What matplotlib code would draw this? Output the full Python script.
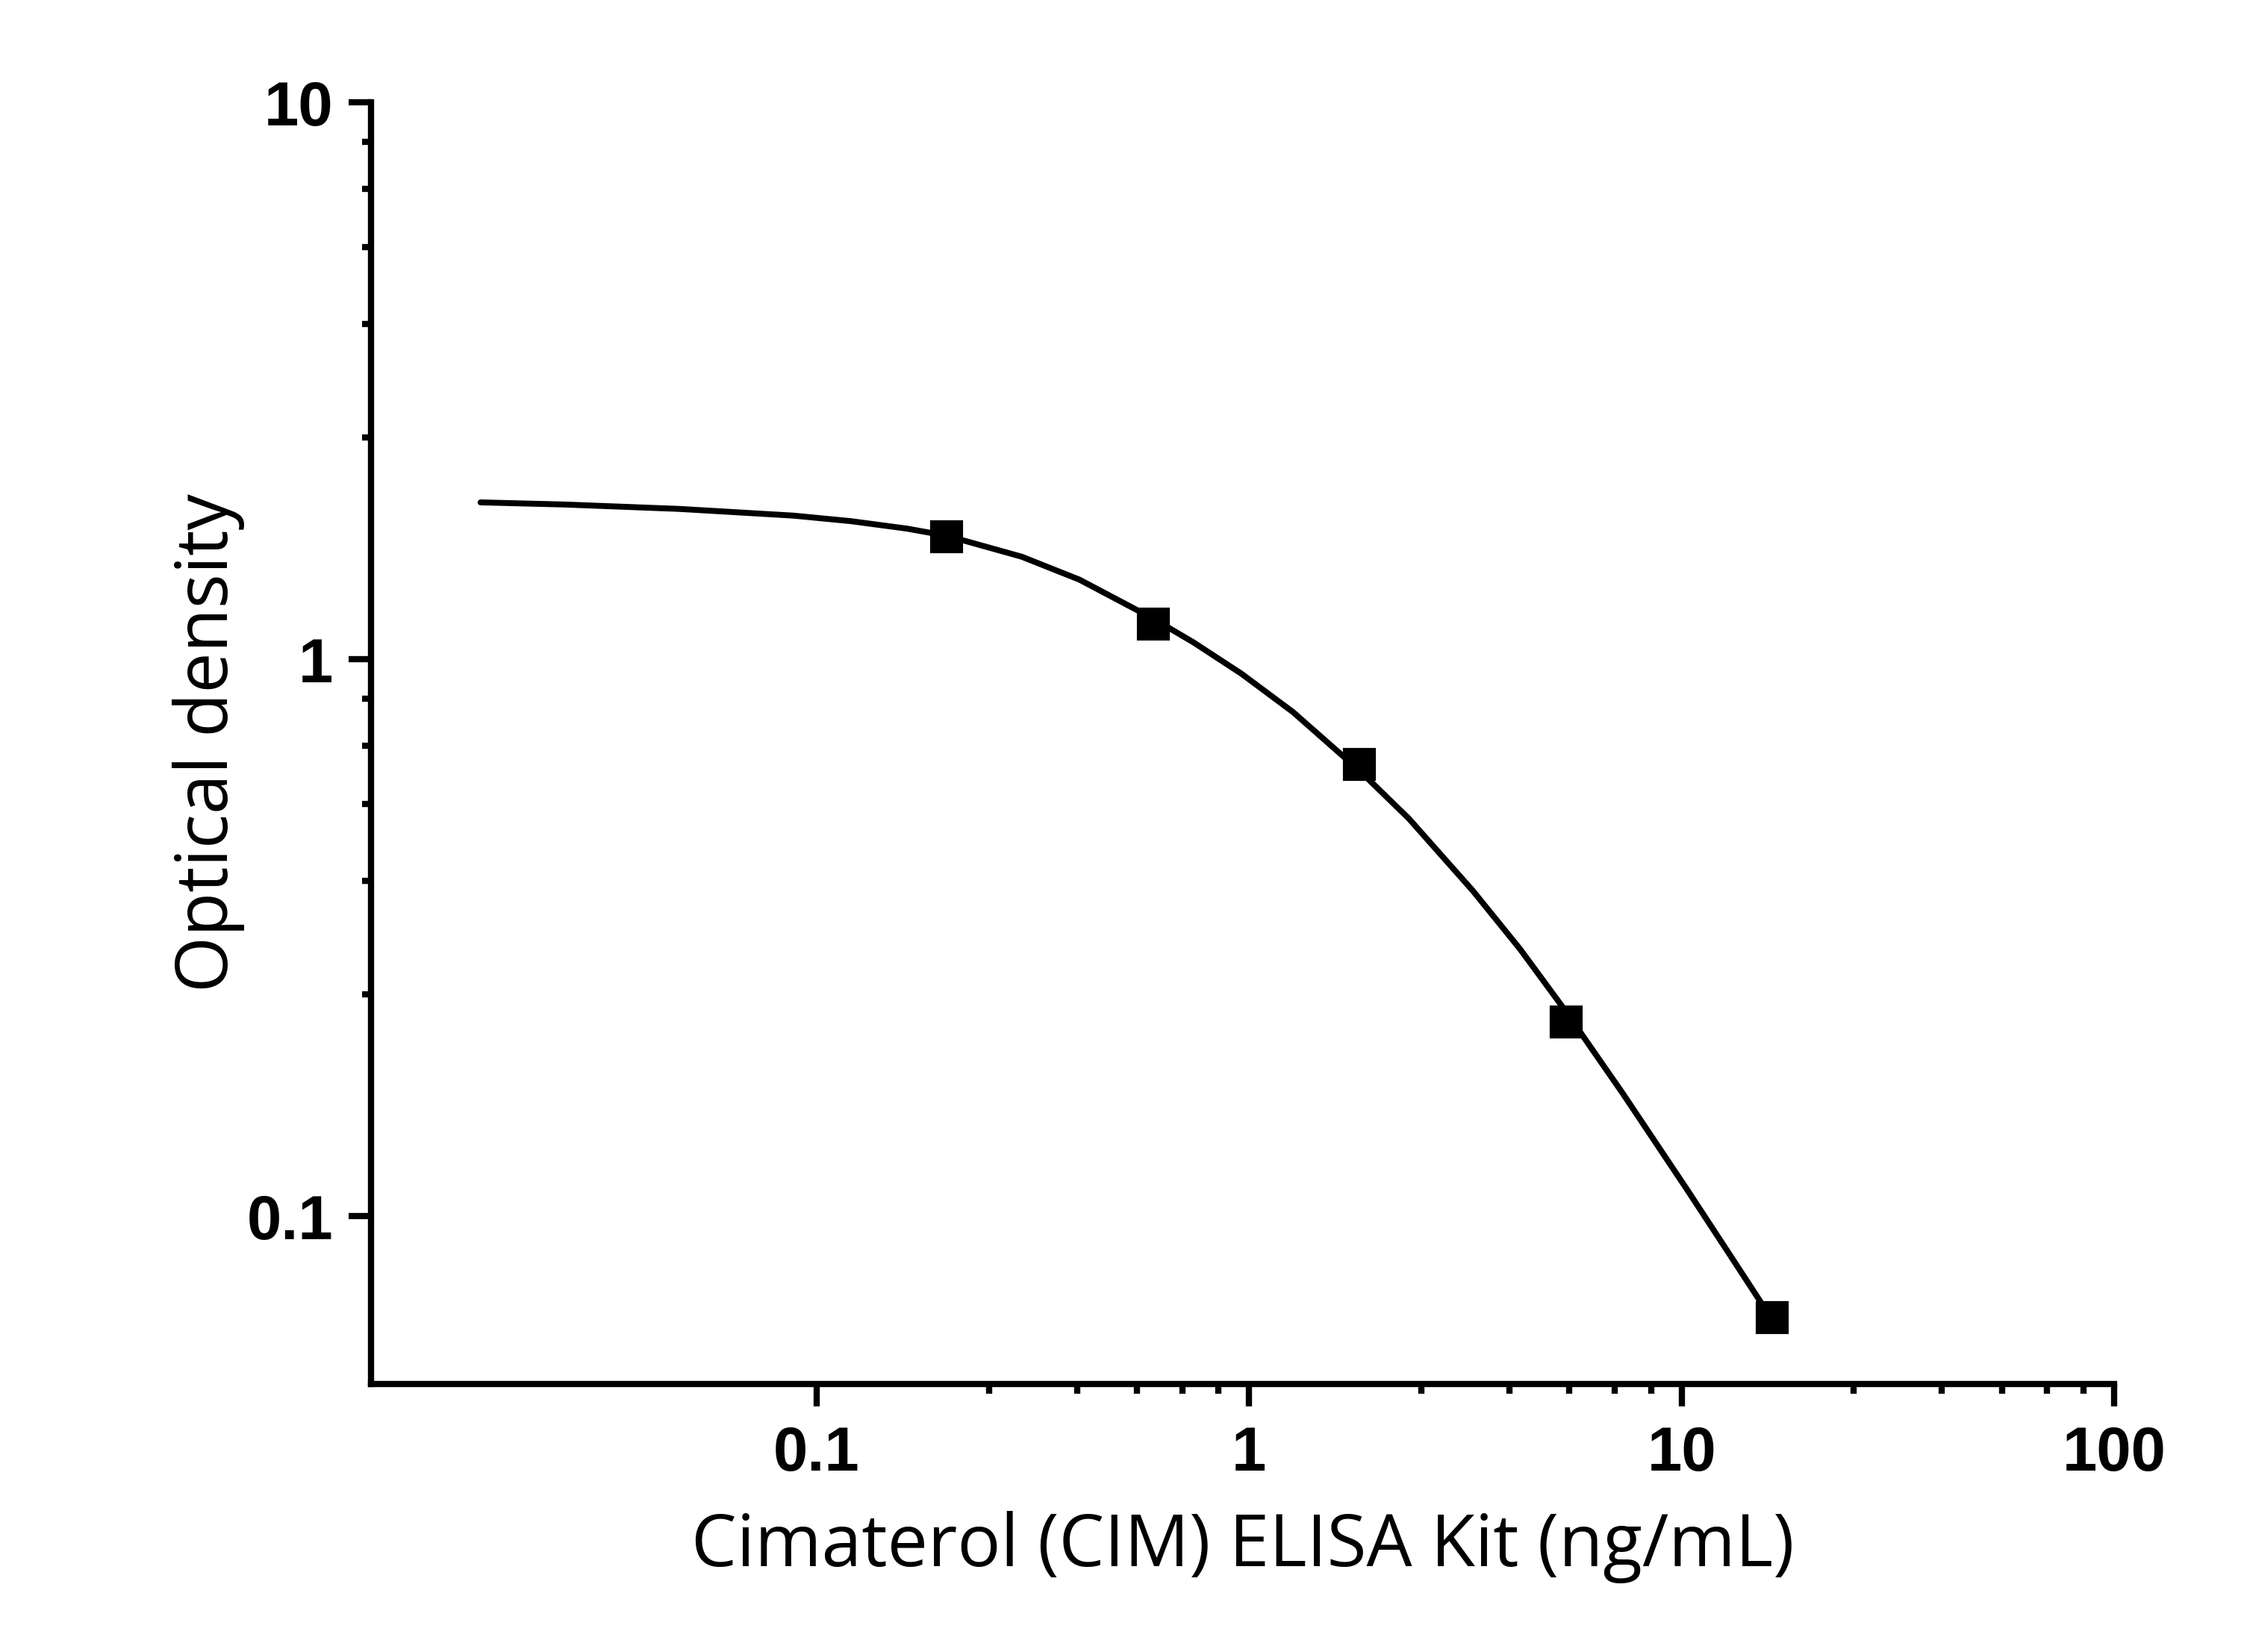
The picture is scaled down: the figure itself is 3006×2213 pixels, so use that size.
import numpy as np
import matplotlib.pyplot as plt
from matplotlib.ticker import NullFormatter

# standard points (ng/mL, OD)
conc = [0.2, 0.6, 1.8, 5.4, 16.2]
od = [1.661, 1.158, 0.648, 0.223, 0.0658]

# fitted curve
fit_x = [0.0167, 0.0262, 0.0481, 0.0884, 0.120, 0.162, 0.2, 0.298, 0.405,
         0.6, 0.744, 0.960, 1.263, 1.8, 2.338, 3.291, 4.228, 5.4, 7.316,
         10.30, 12.95, 16.2]
fit_y = [1.913, 1.896, 1.862, 1.811, 1.770, 1.716, 1.666, 1.528, 1.390,
         1.183, 1.072, 0.942, 0.804, 0.631, 0.518, 0.384, 0.302, 0.2332,
         0.1660, 0.1116, 0.0851, 0.0652]

x_major = [0.1, 1, 10, 100]
x_labels = ['0.1', '1', '10', '100']
y_major = [0.1, 1, 10]
y_labels = ['0.1', '1', '10']
minor_mult = [2.5, 4, 5.5, 7, 8.5]

x_minor = [d * m for d in [0.1, 1, 10] for m in minor_mult]
y_minor = [d * m for d in [0.1, 1] for m in minor_mult]

fig = plt.figure(figsize=(3006 / 300, 2213 / 300), dpi=300)
ax = fig.add_axes([0.16534, 0.16223, 0.77678, 0.77586])

ax.plot(fit_x, fit_y, color='black', lw=1.9, solid_capstyle='round',
        solid_joinstyle='round', zorder=2)
ax.plot(conc, od, 's', color='black', markersize=9.4, zorder=3)

ax.set_xscale('log')
ax.set_yscale('log')
ax.set_xlim(0.00932, 100)
ax.set_ylim(0.05, 10)

ax.set_xticks(x_major, labels=x_labels)
ax.set_xticks(x_minor, minor=True)
ax.set_yticks(y_major, labels=y_labels)
ax.set_yticks(y_minor, minor=True)
ax.xaxis.set_minor_formatter(NullFormatter())
ax.yaxis.set_minor_formatter(NullFormatter())

for side in ['top', 'right']:
    ax.spines[side].set_visible(False)
for side in ['left', 'bottom']:
    ax.spines[side].set_linewidth(2)

ax.tick_params(which='major', length=7.2, width=2, direction='out')
ax.tick_params(which='minor', length=3.0, width=2, direction='out')
ax.tick_params(axis='x', which='major', pad=6)
ax.tick_params(axis='y', which='major', pad=5)

for lab in ax.get_xticklabels() + ax.get_yticklabels():
    lab.set_fontfamily('Liberation Sans')
    lab.set_fontweight('bold')
    lab.set_fontsize(20)

ax.set_xlabel('Cimaterol (CIM) ELISA Kit (ng/mL)', fontfamily='Open Sans',
              fontsize=23.2, va='baseline')
ax.xaxis.set_label_coords(0.5, -0.142)
ax.set_ylabel('Optical density', fontfamily='Open Sans', fontsize=23.2,
              va='baseline')
ax.yaxis.set_label_coords(-0.0822, 0.5)

fig.savefig('out.png', dpi=300, facecolor='white')
